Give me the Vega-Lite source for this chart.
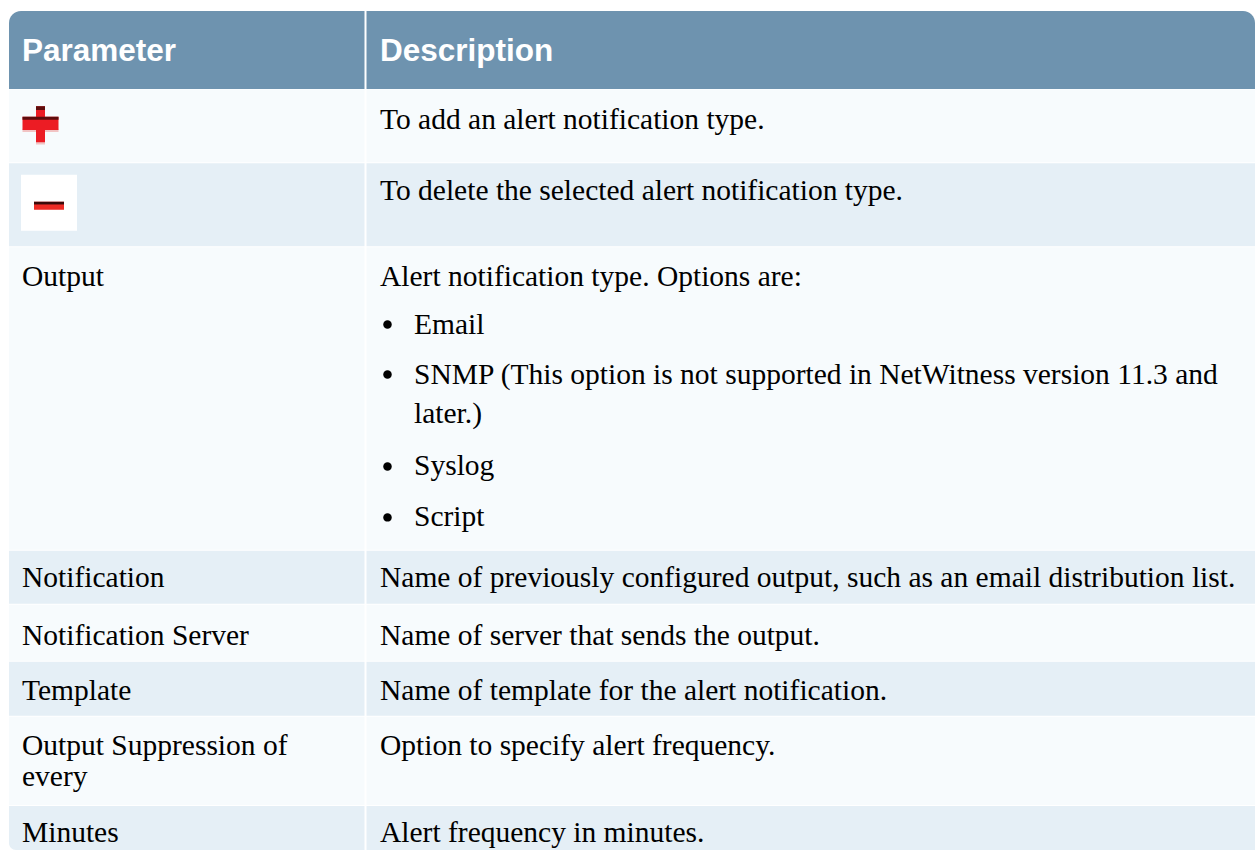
{
  "$schema": "https://vega.github.io/schema/vega-lite/v6.json",
  "width": 1255,
  "height": 852,
  "padding": 0,
  "autosize": {"type": "fit", "contains": "padding"},
  "background": "#ffffff",
  "config": {"view": {"stroke": null}},
  "datasets": {
    "rows": [
      {"i": 0, "x0": 9, "x1": 1255, "top": 11, "bottom": 89},
      {"i": 1, "x0": 9, "x1": 1255, "top": 89.5, "bottom": 162.5},
      {"i": 2, "x0": 9, "x1": 1255, "top": 163.5, "bottom": 246.5},
      {"i": 3, "x0": 9, "x1": 1255, "top": 247.5, "bottom": 550.5},
      {"i": 4, "x0": 9, "x1": 1255, "top": 551.5, "bottom": 604.5},
      {"i": 5, "x0": 9, "x1": 1255, "top": 605.5, "bottom": 661.5},
      {"i": 6, "x0": 9, "x1": 1255, "top": 662.5, "bottom": 716.5},
      {"i": 7, "x0": 9, "x1": 1255, "top": 717.5, "bottom": 806},
      {"i": 8, "x0": 9, "x1": 1255, "top": 807, "bottom": 851}
    ],
    "dividers": [{"x": 365.5, "y0": 11, "y1": 852}],
    "lines": [
      {"kind": "head", "x": 22, "y": 61, "text": "Parameter"},
      {"kind": "head", "x": 380, "y": 61, "text": "Description"},
      {"kind": "body", "x": 380, "y": 129, "text": "To add an alert notification type."},
      {"kind": "body", "x": 380, "y": 200.7, "text": "To delete the selected alert notification type."},
      {"kind": "body", "x": 22, "y": 286.7, "text": "Output"},
      {"kind": "body", "x": 380, "y": 286.7, "text": "Alert notification type. Options are:"},
      {"kind": "body", "x": 414, "y": 334, "text": "Email"},
      {"kind": "body", "x": 414, "y": 384, "text": "SNMP (This option is not supported in NetWitness version 11.3 and"},
      {"kind": "body", "x": 414, "y": 423, "text": "later.)"},
      {"kind": "body", "x": 414, "y": 476, "text": "Syslog"},
      {"kind": "body", "x": 414, "y": 527, "text": "Script"},
      {"kind": "bullet", "x": 387.5, "y": 334, "text": ""},
      {"kind": "bullet", "x": 387.5, "y": 384, "text": ""},
      {"kind": "bullet", "x": 387.5, "y": 476, "text": ""},
      {"kind": "bullet", "x": 387.5, "y": 527, "text": ""},
      {"kind": "body", "x": 22, "y": 588, "text": "Notification"},
      {"kind": "body", "x": 380, "y": 588, "text": "Name of previously configured output, such as an email distribution list."},
      {"kind": "body", "x": 22, "y": 645.5, "text": "Notification Server"},
      {"kind": "body", "x": 380, "y": 645.5, "text": "Name of server that sends the output."},
      {"kind": "body", "x": 22, "y": 700.5, "text": "Template"},
      {"kind": "body", "x": 380, "y": 700.5, "text": "Name of template for the alert notification."},
      {"kind": "body", "x": 22, "y": 755.7, "text": "Output Suppression of"},
      {"kind": "body", "x": 22, "y": 786.7, "text": "every"},
      {"kind": "body", "x": 380, "y": 755.7, "text": "Option to specify alert frequency."},
      {"kind": "body", "x": 22, "y": 843, "text": "Minutes"},
      {"kind": "body", "x": 380, "y": 843, "text": "Alert frequency in minutes."}
    ],
    "icons": [
      {"icon": "plus", "cx": 40.5, "cy": 124.5},
      {"icon": "minus", "cx": 49, "cy": 203}
    ]
  },
  "encoding": {},
  "layer": [
    {
      "data": {"name": "rows"},
      "transform": [{"filter": "datum.i >= 1 && datum.i <= 7"}],
      "mark": {"type": "rect", "strokeWidth": 0},
      "encoding": {
        "x": {"field": "x0", "type": "quantitative", "scale": {"domain": [0, 1255], "nice": false, "zero": false}, "axis": null},
        "x2": {"field": "x1"},
        "y": {"field": "top", "type": "quantitative", "scale": {"domain": [0, 852], "nice": false, "zero": false, "reverse": true}, "axis": null},
        "y2": {"field": "bottom"},
        "fill": {"condition": {"test": "datum.i % 2 == 1", "value": "#f7fbfd"}, "value": "#e5eff6"}
      }
    },
    {
      "data": {"name": "rows"},
      "transform": [{"filter": "datum.i == 8"}],
      "mark": {"type": "rect", "strokeWidth": 0, "cornerRadiusBottomLeft": 7, "fill": "#e5eff6"},
      "encoding": {
        "x": {"field": "x0", "type": "quantitative"},
        "x2": {"field": "x1"},
        "y": {"field": "top", "type": "quantitative"},
        "y2": {"field": "bottom"}
      }
    },
    {
      "data": {"name": "rows"},
      "transform": [{"filter": "datum.i == 0"}],
      "mark": {"type": "rect", "strokeWidth": 0, "cornerRadiusTopLeft": 12, "cornerRadiusTopRight": 12, "fill": "#6e93af"},
      "encoding": {
        "x": {"field": "x0", "type": "quantitative"},
        "x2": {"field": "x1"},
        "y": {"field": "top", "type": "quantitative"},
        "y2": {"field": "bottom"}
      }
    },
    {
      "data": {"name": "dividers"},
      "mark": {"type": "rule", "stroke": "#ffffff", "strokeWidth": 2},
      "encoding": {
        "x": {"field": "x", "type": "quantitative"},
        "y": {"field": "y0", "type": "quantitative"},
        "y2": {"field": "y1"}
      }
    },
    {
      "data": {"name": "lines"},
      "transform": [{"filter": "datum.kind == 'head'"}],
      "mark": {"type": "text", "font": "Liberation Sans", "fontWeight": "bold", "fontSize": 31.5, "fill": "#ffffff", "align": "left", "baseline": "alphabetic"},
      "encoding": {
        "x": {"field": "x", "type": "quantitative"},
        "y": {"field": "y", "type": "quantitative"},
        "text": {"field": "text"}
      }
    },
    {
      "data": {"name": "lines"},
      "transform": [{"filter": "datum.kind == 'body'"}],
      "mark": {"type": "text", "font": "Liberation Serif", "fontSize": 29.5, "fill": "#000000", "align": "left", "baseline": "alphabetic"},
      "encoding": {
        "x": {"field": "x", "type": "quantitative"},
        "y": {"field": "y", "type": "quantitative"},
        "text": {"field": "text"}
      }
    },
    {
      "data": {"name": "lines"},
      "transform": [{"filter": "datum.kind == 'bullet'"}],
      "mark": {"type": "point", "shape": "circle", "filled": true, "opacity": 1, "strokeWidth": 0, "size": 72, "fill": "#000000", "yOffset": -9},
      "encoding": {
        "x": {"field": "x", "type": "quantitative"},
        "y": {"field": "y", "type": "quantitative"}
      }
    },
    {
      "data": {"name": "icons"},
      "transform": [{"filter": "datum.icon == 'plus'"}],
      "mark": {"type": "point", "filled": true, "opacity": 1, "strokeWidth": 0, "size": 1296, "fill": "#f2c4c4", "shape": "M-0.25,0.9H0.25V1.12H-0.25Z M-1,0.25H1V0.42H-1Z"},
      "encoding": {
        "x": {"field": "cx", "type": "quantitative"},
        "y": {"field": "cy", "type": "quantitative"}
      }
    },
    {
      "data": {"name": "icons"},
      "transform": [{"filter": "datum.icon == 'plus'"}],
      "mark": {"type": "point", "filled": true, "opacity": 1, "strokeWidth": 0, "size": 1296, "fill": "#ec1c24", "shape": "M-0.25,-1H0.25V-0.42H1V0.31H0.25V1H-0.25V0.31H-1V-0.42H-0.25Z"},
      "encoding": {
        "x": {"field": "cx", "type": "quantitative"},
        "y": {"field": "cy", "type": "quantitative"}
      }
    },
    {
      "data": {"name": "icons"},
      "transform": [{"filter": "datum.icon == 'plus'"}],
      "mark": {"type": "point", "filled": true, "opacity": 1, "strokeWidth": 0, "size": 1296, "fill": "#5e0c0c", "shape": "M-0.25,-1H0.25V-0.8H-0.25Z M-1,-0.42H1V-0.25H-1Z"},
      "encoding": {
        "x": {"field": "cx", "type": "quantitative"},
        "y": {"field": "cy", "type": "quantitative"}
      }
    },
    {
      "data": {"name": "icons"},
      "transform": [{"filter": "datum.icon == 'minus'"}],
      "mark": {"type": "point", "filled": true, "opacity": 1, "strokeWidth": 0, "size": 3136, "fill": "#ffffff", "shape": "square"},
      "encoding": {
        "x": {"field": "cx", "type": "quantitative"},
        "y": {"field": "cy", "type": "quantitative"}
      }
    },
    {
      "data": {"name": "icons"},
      "transform": [{"filter": "datum.icon == 'minus'"}],
      "mark": {"type": "point", "filled": true, "opacity": 1, "strokeWidth": 0, "size": 3136, "fill": "#ee2a24", "shape": "M-0.536,-0.036H0.536V0.25H-0.536Z"},
      "encoding": {
        "x": {"field": "cx", "type": "quantitative"},
        "y": {"field": "cy", "type": "quantitative"}
      }
    },
    {
      "data": {"name": "icons"},
      "transform": [{"filter": "datum.icon == 'minus'"}],
      "mark": {"type": "point", "filled": true, "opacity": 1, "strokeWidth": 0, "size": 3136, "fill": "#3a0a0a", "shape": "M-0.536,-0.036H0.536V0.06H-0.536Z"},
      "encoding": {
        "x": {"field": "cx", "type": "quantitative"},
        "y": {"field": "cy", "type": "quantitative"}
      }
    }
  ]
}
